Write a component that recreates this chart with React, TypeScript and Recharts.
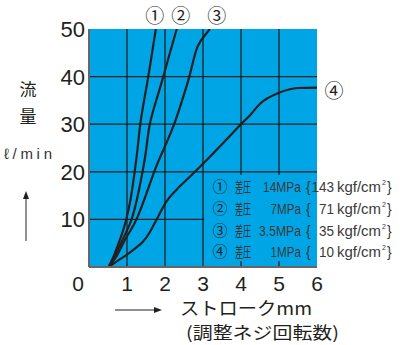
import React from "react";
import {
  LineChart,
  Line,
  XAxis,
  YAxis,
  CartesianGrid,
  ReferenceArea,
  LabelList,
} from "recharts";

// stroke (turns of the adjusting screw) vs flow for each pressure difference
const flowLevels = [0, 2.5, 5, 7.5, 10, 14.5, 20.5, 25, 30, 35, 40, 45, 50];
const stroke14MPa = [0.52, 0.66, 0.78, 0.89, 0.98, 1.1, 1.21, 1.28, 1.35, 1.45, 1.56, 1.66, 1.76];
const stroke7MPa = [0.52, 0.69, 0.84, 0.99, 1.12, 1.27, 1.42, 1.51, 1.6, 1.77, 1.955, 2.13, 2.31];

const flowLevels35 = [0, 2.5, 5, 7.5, 10, 14.5, 20.5, 25, 30, 35, 40, 45, 47.5, 50];
const stroke35MPa = [0.52, 0.74, 0.9, 1.08, 1.25, 1.47, 1.74, 1.98, 2.24, 2.45, 2.64, 2.8, 2.94, 3.18];

const stroke1MPa = [0.52, 0.75, 1.0, 1.2, 1.43, 1.6, 1.78, 2.04, 2.3, 2.66, 3.0, 3.5, 4.0, 4.25, 4.5, 5.0, 5.5, 6.0];
const flow1MPa = [0, 1.3, 2.6, 3.8, 5.4, 7.3, 10, 13.8, 16.2, 19, 21.7, 25.8, 30, 32, 34.3, 36.6, 37.6, 37.7];

const xTicks = [0, 1, 2, 3, 4, 5, 6];
const yTicks = [10, 20, 30, 40, 50];

const seriesMarks = ["①", "②", "③", "④"];
const legendPressure = ["14MPa", "7MPa", "3.5MPa", "1MPa"];
const legendKgf = ["143", "71", "35", "10"];

const toPoints = (xs: number[], ys: number[]) => xs.map((x, i) => ({ x, y: ys[i] }));

const series = [
  toPoints(stroke14MPa, flowLevels),
  toPoints(stroke7MPa, flowLevels),
  toPoints(stroke35MPa, flowLevels35),
  toPoints(stroke1MPa, flow1MPa),
];
const curveTypes: any[] = ["natural", "natural", "natural", "monotone"];

// where each circled number sits relative to the end of its curve
const markOffsets = [
  { dx: -1, dy: -13 },
  { dx: 4, dy: -13 },
  { dx: 7, dy: -13 },
  { dx: 17, dy: 4 },
];

const BLUE = "#00a5e6";
const INK = "#231f20";
const JP = '"Noto Sans CJK JP", "Noto Sans", sans-serif';
const NUM = '"Liberation Sans", Arial, sans-serif';

// condensed width of a legend string: dots are narrow
const narrowWidth = (s: string) =>
  s.split("").reduce((w, ch) => w + (ch === "." ? 4 : 7.6), 0);

const XTick = (props: any) => {
  const { x, y, payload } = props;
  const shift = payload.value === 0 ? -11 : 0;
  return (
    <text x={x + shift} y={y} dy="0.71em" textAnchor="middle" fontSize={21} fontFamily={NUM} fill={INK}>
      {payload.value}
    </text>
  );
};

const YTick = (props: any) => {
  const { x, y, payload } = props;
  return (
    <text x={x} y={y} dy="0.36em" textAnchor="end" fontSize={22} fontFamily={NUM} fill={INK}>
      {payload.value}
    </text>
  );
};

const endMark = (idx: number, count: number) => (props: any) => {
  const { x, y, index } = props;
  if (index !== count - 1) return null;
  const o = markOffsets[idx];
  return (
    <text
      x={x + o.dx}
      y={y + o.dy}
      dy="0.36em"
      textAnchor="middle"
      fontSize={19}
      fontFamily={JP}
      fill={INK}
    >
      {seriesMarks[idx]}
    </text>
  );
};

const Legend = () => {
  const rows = [191.5, 214, 236, 257];
  const narrow = { fontFamily: NUM, fontSize: 14, fill: "#3a3a3a" };
  return (
    <g>
      {rows.map((by, i) => (
        <g key={i}>
          <text x={220} y={by - 5} dy="0.36em" textAnchor="middle" fontSize={15} fontFamily={JP} fill={INK}>
            {seriesMarks[i]}
          </text>
          <text transform={`translate(235 ${by}) scale(0.58 1)`} fontSize={14} fontFamily={JP} fill="#333">
            差圧
          </text>
          <text
            x={301}
            y={by}
            textAnchor="end"
            {...narrow}
            textLength={narrowWidth(legendPressure[i])}
            lengthAdjust="spacingAndGlyphs"
          >
            {legendPressure[i]}
          </text>
          <text x={306} y={by} {...narrow} fontWeight={300}>
            {"{"}
          </text>
          <text
            x={334}
            y={by}
            textAnchor="end"
            {...narrow}
            textLength={legendKgf[i].length * 7.5}
            lengthAdjust="spacingAndGlyphs"
          >
            {legendKgf[i]}
          </text>
          <text x={337} y={by} {...narrow} textLength={44} lengthAdjust="spacingAndGlyphs">
            kgf/cm
          </text>
          <text x={382} y={by - 7} {...narrow} fontSize={7}>
            2
          </text>
          <text x={387} y={by} {...narrow} fontWeight={300}>
            {"}"}
          </text>
        </g>
      ))}
    </g>
  );
};

const Titles = () => (
  <svg width={403} height={345} style={{ position: "absolute", left: 0, top: 0, pointerEvents: "none" }}>
    <text x={28} y={90} dy="0.36em" textAnchor="middle" fontSize={17} fontFamily={JP} fill={INK}>
      流
    </text>
    <text x={28} y={117} dy="0.36em" textAnchor="middle" fontSize={17} fontFamily={JP} fill={INK}>
      量
    </text>
    <text x={4} y={159} fontSize={15} fontFamily={NUM} fill="#333" textLength={48} lengthAdjust="spacing">
      ℓ/min
    </text>
    <line x1={26} y1={241} x2={26} y2={197} stroke={INK} strokeWidth={1} />
    <polygon points="26,191 23,199 29,199" fill={INK} />
    <line x1={115} y1={310} x2={156} y2={310} stroke={INK} strokeWidth={1} />
    <polygon points="162,310 154,307 154,313" fill={INK} />
    <text x={180} y={309} dy="0.36em" fontSize={18} fontFamily={JP} fill={INK} textLength={132} lengthAdjust="spacingAndGlyphs">
      ストロークmm
    </text>
    <text x={186} y={333} dy="0.36em" fontSize={17} fontFamily={JP} fill={INK} textLength={153} lengthAdjust="spacingAndGlyphs">
      (調整ネジ回転数)
    </text>
    <Legend />
  </svg>
);

export default function App() {
  return (
    <div style={{ position: "absolute", left: 0, top: 0, width: 403, height: 345, background: "#fff" }}>
      <LineChart width={403} height={345} margin={{ top: 29, right: 86, bottom: 48, left: 0 }}>
        <CartesianGrid
          fill={BLUE}
          fillOpacity={1}
          stroke={INK}
          strokeWidth={1.3}
          horizontalValues={[10, 20, 30, 40]}
          verticalValues={[1, 2, 3, 4, 5]}
        />
        <ReferenceArea x1={3.03} x2={6} y1={1.2} y2={19.4} fill={BLUE} fillOpacity={1} stroke="none" />
        <XAxis
          type="number"
          dataKey="x"
          domain={[0, 6]}
          ticks={xTicks}
          allowDataOverflow
          height={30}
          axisLine={{ stroke: "#666", strokeWidth: 2 }}
          tickLine={false}
          tickSize={0}
          tickMargin={9}
          tick={<XTick />}
        />
        <YAxis
          type="number"
          dataKey="y"
          domain={[0, 50]}
          ticks={yTicks}
          allowDataOverflow
          width={89}
          axisLine={{ stroke: "#666", strokeWidth: 2 }}
          tickLine={false}
          tickSize={0}
          tickMargin={4}
          tick={<YTick />}
        />
        {series.map((pts, i) => (
          <Line
            key={i}
            data={pts}
            dataKey="y"
            type={curveTypes[i]}
            stroke={INK}
            strokeWidth={2.2}
            dot={false}
            isAnimationActive={false}
          >
            <LabelList dataKey="y" content={endMark(i, pts.length)} />
          </Line>
        ))}
      </LineChart>
      <Titles />
    </div>
  );
}
